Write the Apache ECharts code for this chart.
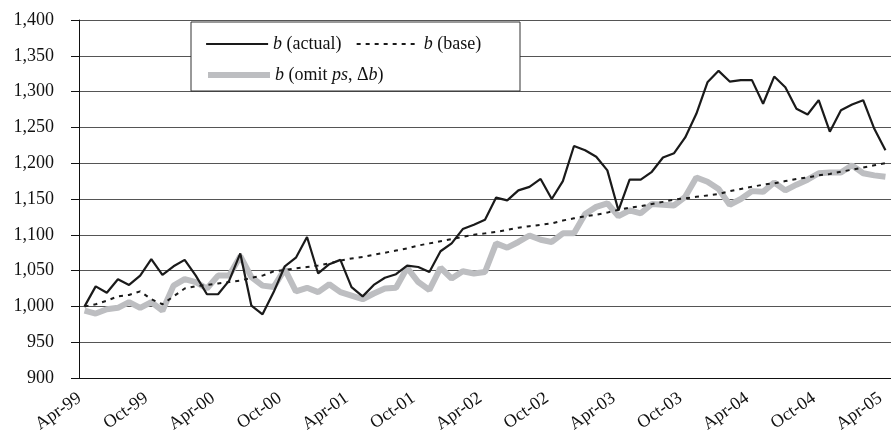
<!DOCTYPE html>
<html>
<head>
<meta charset="utf-8">
<script src="https://cdn.jsdelivr.net/npm/echarts@6/dist/echarts.min.js"></script>
<style>
  html, body { margin: 0; padding: 0; background: #fff; }
  #chart { width: 891px; height: 439px; }
</style>
</head>
<body>
<div id="chart"></div>
<script>
// monthly, Apr-99 .. Apr-05
const monthNames = ["Jan", "Feb", "Mar", "Apr", "May", "Jun", "Jul", "Aug", "Sep", "Oct", "Nov", "Dec"];
const categories = [];
for (let k = 0; k < 73; k++) {
  const m = (3 + k) % 12;
  const y = 99 + Math.floor((3 + k) / 12);
  categories.push(monthNames[m] + "-" + String(y % 100).padStart(2, "0"));
}

const bActual = [
  1000, 1028, 1019, 1038, 1030, 1043, 1066, 1044, 1056, 1065,
  1043, 1017, 1017, 1036, 1074, 1001, 989, 1020, 1056, 1068,
  1097, 1046, 1059, 1065, 1027, 1014, 1030, 1040, 1045, 1057,
  1055, 1048, 1077, 1088, 1108, 1114, 1121, 1152, 1148, 1162,
  1167, 1178, 1150, 1175, 1224, 1218, 1209, 1190, 1134, 1177,
  1177, 1188, 1208, 1214, 1236, 1269, 1313, 1329, 1314, 1316,
  1316, 1283, 1321, 1306, 1276, 1268, 1288, 1244, 1274, 1282,
  1288, 1248, 1218
];

const bBase = [
  1000, 1003, 1008, 1014, 1016, 1021, 1010, 1003, 1014, 1025,
  1028, 1030, 1032, 1034, 1036, 1040, 1043, 1049, 1051, 1053,
  1055, 1057, 1060, 1064, 1067, 1069, 1072, 1075, 1078, 1081,
  1085, 1088, 1091, 1094, 1097, 1100, 1102, 1104, 1107, 1110,
  1112, 1114, 1116, 1120, 1123, 1126, 1128, 1131, 1135, 1138,
  1140, 1143, 1146, 1149, 1151, 1153, 1155, 1157, 1161, 1164,
  1167, 1170, 1172, 1175, 1178, 1180, 1183, 1185, 1188, 1191,
  1194, 1197, 1200
];

const bOmit = [
  994, 990, 996, 998, 1006, 998, 1006, 994, 1029, 1038,
  1034, 1025, 1043, 1043, 1070, 1041, 1029, 1027, 1052, 1021,
  1026, 1020, 1031, 1020, 1015, 1010, 1018, 1025, 1026, 1054,
  1034, 1023, 1054, 1039, 1049, 1046, 1048, 1088, 1082, 1090,
  1099, 1093, 1090, 1102, 1102, 1129, 1139, 1144, 1126, 1134,
  1130, 1143, 1142, 1141, 1153, 1180, 1174, 1164, 1142, 1150,
  1161, 1160, 1173, 1162, 1170, 1177, 1186, 1187, 1187, 1197,
  1186, 1183, 1181
];

const names = ["{i|b} (actual)", "{i|b} (base)", "{i|b} (omit {i|ps}, Δ{i|b})"];

const serif = "Liberation Serif";
const legendText = {
  fontFamily: serif,
  fontSize: 18,
  color: "#111",
  rich: {
    i: { fontFamily: serif, fontSize: 18, fontStyle: "italic", color: "#111" }
  }
};

const chart = echarts.init(document.getElementById("chart"));

const option = {
  animation: false,
  backgroundColor: "#fff",
  grid: { left: 79, top: 20, width: 820, height: 358, containLabel: false },
  graphic: [
    {
      type: "rect",
      z: 3,
      shape: { x: 191, y: 22, width: 329, height: 69 },
      style: { fill: "#fff", stroke: "#333", lineWidth: 1 }
    }
  ],
  legend: [
    {
      data: [names[0], names[1]],
      left: 200,
      top: 30,
      itemWidth: 62,
      itemHeight: 12,
      itemGap: 14,
      itemStyle: { opacity: 0 },
      lineStyle: { width: 2.2 },
      textStyle: legendText
    },
    {
      data: [names[2]],
      left: 200,
      top: 61,
      itemWidth: 62,
      itemHeight: 12,
      itemStyle: { opacity: 0 },
      lineStyle: { width: 6 },
      textStyle: legendText
    }
  ],
  xAxis: {
    type: "category",
    data: categories,
    boundaryGap: true,
    axisLine: { lineStyle: { color: "#111", width: 1 } },
    axisTick: { interval: 5, length: 7, lineStyle: { color: "#111" } },
    axisLabel: {
      interval: 5,
      rotate: 35,
      margin: 15,
      padding: [0, 6, 0, 0],
      fontFamily: serif,
      fontSize: 18,
      color: "#111"
    }
  },
  yAxis: {
    type: "value",
    min: 900,
    max: 1400,
    interval: 50,
    axisLine: { show: true, lineStyle: { color: "#111", width: 1 } },
    axisTick: { show: true, length: 8, lineStyle: { color: "#111" } },
    axisLabel: {
      margin: 25,
      fontFamily: serif,
      fontSize: 18,
      color: "#111",
      formatter: (v) => v.toLocaleString("en-US")
    },
    splitLine: { lineStyle: { color: "#555", width: 1 } }
  },
  series: [
    {
      name: names[0],
      type: "line",
      data: bActual,
      symbol: "none",
      z: 4,
      lineStyle: { color: "#1a1a1a", width: 2.2 },
      itemStyle: { color: "#1a1a1a" }
    },
    {
      name: names[1],
      type: "line",
      data: bBase,
      symbol: "none",
      z: 5,
      lineStyle: { color: "#1a1a1a", width: 2, type: [4, 5] },
      itemStyle: { color: "#1a1a1a" }
    },
    {
      name: names[2],
      type: "line",
      data: bOmit,
      symbol: "none",
      z: 3,
      lineStyle: { color: "#bdbec1", width: 6 },
      itemStyle: { color: "#bdbec1" }
    }
  ]
};

chart.setOption(option);
</script>
</body>
</html>
